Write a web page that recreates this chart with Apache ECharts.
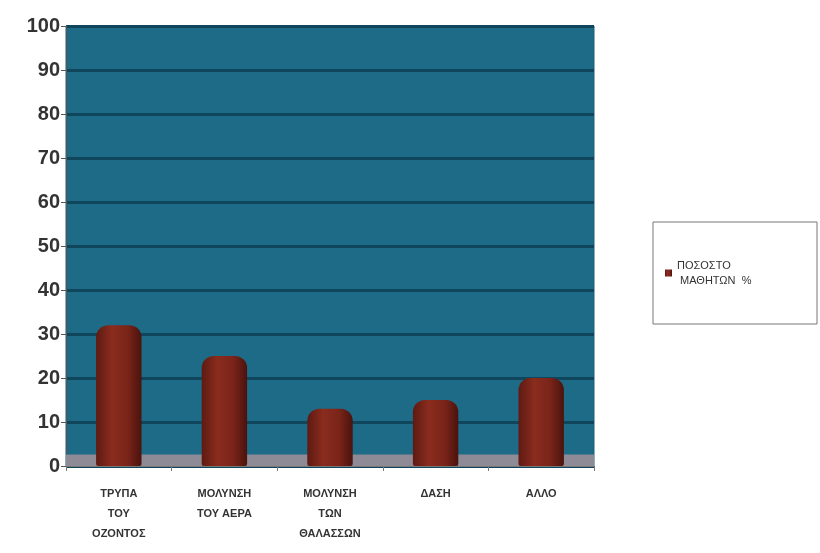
<!DOCTYPE html>
<html><head><meta charset="utf-8">
<script src="https://cdn.jsdelivr.net/npm/echarts@6/dist/echarts.min.js"></script>
<style>html,body{margin:0;padding:0;background:#fff}#c{width:820px;height:553px}</style>
</head><body><div id="c"></div>
<script>
const categories = ['ΤΡΥΠΑ\nΤΟΥ\nΟΖΟΝΤΟΣ', 'ΜΟΛΥΝΣΗ\nΤΟΥ ΑΕΡΑ', 'ΜΟΛΥΝΣΗ\nΤΩΝ\nΘΑΛΑΣΣΩΝ', 'ΔΑΣΗ', 'ΑΛΛΟ'];
const values = [32, 25, 13, 15, 20];
const seriesName = 'ΠΟΣΟΣΤΟ ΜΑΘΗΤΩΝ %';
const yTicks = {min: 0, max: 100, interval: 10};

const chart = echarts.init(document.getElementById('c'));
chart.setOption({
  backgroundColor: '#fff',
  animation: false,
  grid: {left: 66, top: 26, right: 226, bottom: 87, show: true, backgroundColor: '#1d6b86', borderColor: '#1d5f78', borderWidth: 1},
  legend: {
    right: 3, top: 222, orient: 'vertical',
    padding: [36, 30, 36, 12],
    borderColor: '#777', borderWidth: 1,
    itemWidth: 7, itemHeight: 7, itemGap: 4,
    icon: 'rect',
    formatter: () => 'ΠΟΣΟΣΤΟ\n ΜΑΘΗΤΩΝ  %',
    textStyle: {fontFamily: 'Liberation Sans', fontSize: 11, color: '#333', lineHeight: 15, width: 110}
  },
  xAxis: {
    type: 'category', data: categories,
    axisLine: {show: true, lineStyle: {color: '#777', width: 1}},
    axisTick: {show: true, alignWithLabel: false, length: 5, lineStyle: {color: '#777'}},
    axisLabel: {fontFamily: 'Liberation Sans', fontWeight: 'bold', fontSize: 11, color: '#333', lineHeight: 20, margin: 18}
  },
  yAxis: {
    type: 'value', min: yTicks.min, max: yTicks.max, interval: yTicks.interval,
    axisLine: {show: true, lineStyle: {color: '#555'}},
    axisTick: {show: true, length: 5, lineStyle: {color: '#555'}},
    axisLabel: {fontFamily: 'Liberation Sans', fontWeight: 'bold', fontSize: 20, color: '#333', margin: 6},
    splitLine: {show: true, lineStyle: {color: '#10465c', width: 3}}
  },
  series: [{
    name: seriesName, type: 'bar', data: values, barWidth: '43%',
    itemStyle: {
      color: new echarts.graphic.LinearGradient(0, 0, 1, 0, [
        {offset: 0, color: '#5e1a12'}, {offset: 0.35, color: '#8a2c1e'}, {offset: 0.7, color: '#7a2419'}, {offset: 1, color: '#4a130d'}
      ]),
      borderRadius: [12, 12, 2, 2]
    },
    markArea: {silent: true, itemStyle: {color: '#8e8a96'}, data: [[{yAxis: 0}, {yAxis: 2.6}]]},
    z: 3
  }]
});
</script></body></html>
